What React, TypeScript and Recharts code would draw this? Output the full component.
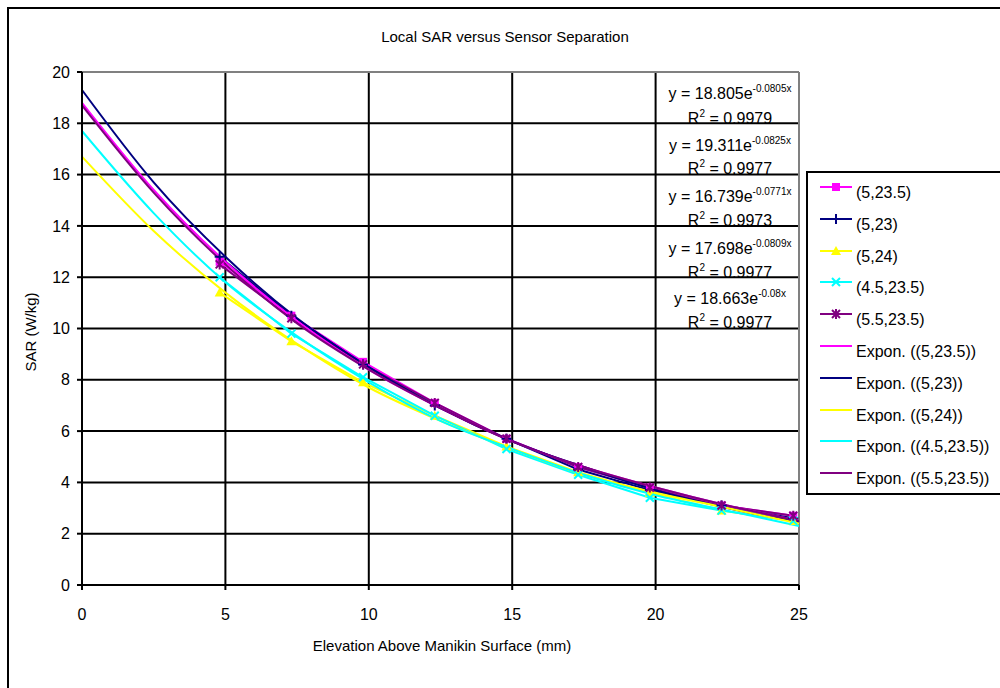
import React from 'react'
import { LineChart, Line, CartesianGrid, XAxis, YAxis, ReferenceLine } from 'recharts'

const FONT = '"Liberation Sans", Arial, sans-serif'

// measured elevations (mm)
const xs = [4.8, 7.3, 9.8, 12.3, 14.8, 17.3, 19.8, 22.3, 24.8]
const s5_235 = [12.6, 10.5, 8.7, 7.1, 5.7, 4.6, 3.8, 3.1, 2.7]
const s5_23 = [12.8, 10.5, 8.6, 7.0, 5.7, 4.5, 3.7, 3.1, 2.6]
const s5_24 = [11.4, 9.5, 7.9, 6.6, 5.4, 4.4, 3.6, 2.9, 2.5]
const s45_235 = [12.0, 9.8, 8.1, 6.6, 5.3, 4.3, 3.4, 2.9, 2.5]
const s55_235 = [12.5, 10.4, 8.6, 7.1, 5.7, 4.6, 3.8, 3.1, 2.7]

// trendline values
const trendX = [0, 2.5, 5, 7.5, 10, 12.5, 15, 17.5, 20, 22.5, 25]
const t5_235 = [18.8, 15.4, 12.6, 10.3, 8.4, 6.9, 5.6, 4.6, 3.8, 3.1, 2.5]
const t5_23 = [19.3, 15.7, 12.8, 10.4, 8.5, 6.9, 5.6, 4.6, 3.7, 3.0, 2.45]
const t5_24 = [16.7, 13.8, 11.4, 9.4, 7.7, 6.4, 5.3, 4.3, 3.6, 3.0, 2.4]
const t45_235 = [17.7, 14.5, 11.8, 9.7, 7.9, 6.4, 5.3, 4.3, 3.5, 2.9, 2.3]
const t55_235 = [18.7, 15.3, 12.5, 10.2, 8.4, 6.9, 5.6, 4.6, 3.8, 3.1, 2.5]

const xTicks = [0, 5, 10, 15, 20, 25]
const yTicks = [0, 2, 4, 6, 8, 10, 12, 14, 16, 18, 20]

const series = [
  { name: '(5,23.5)', color: '#FF00FF', shape: 'square', values: s5_235 },
  { name: '(5,23)', color: '#000080', shape: 'plus', values: s5_23 },
  { name: '(5,24)', color: '#FFFF00', shape: 'triangle', values: s5_24 },
  { name: '(4.5,23.5)', color: '#00FFFF', shape: 'x', values: s45_235 },
  { name: '(5.5,23.5)', color: '#800080', shape: 'star', values: s55_235 },
]

const trends = [
  { name: 'Expon. ((5,23.5))', color: '#FF00FF', values: t5_235 },
  { name: 'Expon. ((5,23))', color: '#000080', values: t5_23 },
  { name: 'Expon. ((5,24))', color: '#FFFF00', values: t5_24 },
  { name: 'Expon. ((4.5,23.5))', color: '#00FFFF', values: t45_235 },
  { name: 'Expon. ((5.5,23.5))', color: '#800080', values: t55_235 },
]

const equations = [
  { a: '18.805', k: '-0.0805x', r2: '0.9979' },
  { a: '19.311', k: '-0.0825x', r2: '0.9977' },
  { a: '16.739', k: '-0.0771x', r2: '0.9973' },
  { a: '17.698', k: '-0.0809x', r2: '0.9977' },
  { a: '18.663', k: '-0.08x', r2: '0.9977' },
]

function Marker({ shape, color, cx, cy }: any) {
  if (cx == null || cy == null) return null
  switch (shape) {
    case 'square':
      return <rect x={cx - 4} y={cy - 4} width={8} height={8} fill={color} />
    case 'plus':
      return <path d={`M${cx - 5},${cy}H${cx + 5}M${cx},${cy - 5}V${cy + 5}`} stroke={color} strokeWidth={2} />
    case 'triangle':
      return <path d={`M${cx},${cy - 5}L${cx + 5},${cy + 4}L${cx - 5},${cy + 4}Z`} fill={color} />
    case 'x':
      return <path d={`M${cx - 4},${cy - 4}L${cx + 4},${cy + 4}M${cx + 4},${cy - 4}L${cx - 4},${cy + 4}`} stroke={color} strokeWidth={2} />
    case 'star':
      return (
        <path
          d={`M${cx - 4},${cy - 4}L${cx + 4},${cy + 4}M${cx + 4},${cy - 4}L${cx - 4},${cy + 4}M${cx},${cy - 5}V${cy + 5}`}
          stroke={color}
          strokeWidth={2}
        />
      )
    default:
      return null
  }
}

export default function App() {
  const eqTop = [93, 145, 196, 248, 298]
  const r2Top = [118, 168, 220, 272, 322]
  const legendRows = [
    ...series.map(s => ({ name: s.name, color: s.color, shape: s.shape })),
    ...trends.map(t => ({ name: t.name, color: t.color, shape: '' })),
  ]

  return (
    <div style={{ position: 'absolute', left: 0, top: 0, width: 1000, height: 688, background: '#fff', fontFamily: FONT, overflow: 'hidden' }}>
      <LineChart width={1000} height={688} margin={{ top: 72, right: 201, bottom: 73, left: 22 }}>
        <CartesianGrid stroke="#000" strokeWidth={2} />
        <XAxis
          type="number"
          dataKey="x"
          domain={[0, 25]}
          ticks={xTicks}
          height={30}
          axisLine={{ stroke: '#000', strokeWidth: 2 }}
          tickLine={{ stroke: '#000', strokeWidth: 2 }}
          tickSize={5}
          tickMargin={19}
          tick={{ fill: '#000', fontSize: 16, fontFamily: FONT }}
        />
        <YAxis
          type="number"
          domain={[0, 20]}
          ticks={yTicks}
          width={60}
          axisLine={{ stroke: '#000', strokeWidth: 2 }}
          tickLine={{ stroke: '#000', strokeWidth: 2 }}
          tickSize={5}
          tickMargin={7}
          tick={{ fill: '#000', fontSize: 16, fontFamily: FONT }}
        />
        <ReferenceLine y={20} stroke="#808080" strokeWidth={2} />
        <ReferenceLine x={25} stroke="#808080" strokeWidth={2} />
        {series.map(s => (
          <Line
            key={s.name}
            data={xs.map((x, i) => ({ x, y: s.values[i] }))}
            dataKey="y"
            type="linear"
            stroke={s.color}
            strokeWidth={2}
            isAnimationActive={false}
            dot={(p: any) => <Marker key={`${s.name}-${p.index}`} shape={s.shape} color={s.color} cx={p.cx} cy={p.cy} />}
            activeDot={false}
          />
        ))}
        {trends.map(t => (
          <Line
            key={t.name}
            data={trendX.map((x, i) => ({ x, y: t.values[i] }))}
            dataKey="y"
            type="monotone"
            stroke={t.color}
            strokeWidth={2}
            isAnimationActive={false}
            dot={false}
            activeDot={false}
          />
        ))}
      </LineChart>

      <svg width={1000} height={688} style={{ position: 'absolute', left: 0, top: 0, pointerEvents: 'none' }}>
        <path d="M8,700V8H1010" fill="none" stroke="#000" strokeWidth={2} />
        <text x={505} y={42} textAnchor="middle" fontSize={15} fontFamily={FONT} fill="#000">
          Local SAR versus Sensor Separation
        </text>
        <text x={442} y={651} textAnchor="middle" fontSize={15} fontFamily={FONT} fill="#000">
          Elevation Above Manikin Surface (mm)
        </text>
        <text x={36} y={332} textAnchor="middle" fontSize={15} fontFamily={FONT} fill="#000" transform="rotate(-90 36 332)">
          SAR (W/kg)
        </text>
        {equations.map((e, i) => (
          <g key={i} fontFamily={FONT} fill="#000">
            <text x={730} y={eqTop[i] + 6} textAnchor="middle" fontSize={16}>
              y = {e.a}e<tspan dy={-7} fontSize={10}>{e.k}</tspan>
            </text>
            <text x={730} y={r2Top[i] + 6} textAnchor="middle" fontSize={16}>
              R<tspan dy={-7} fontSize={10}>2</tspan>
              <tspan dy={7}> = {e.r2}</tspan>
            </text>
          </g>
        ))}
      </svg>

      <div style={{ position: 'absolute', left: 806, top: 171, width: 220, height: 320, border: '2px solid #000', background: '#fff' }}>
        {legendRows.map((r, i) => (
          <div key={r.name} style={{ position: 'absolute', left: 12, top: 8 + i * 31.8, height: 20, display: 'flex', alignItems: 'flex-start' }}>
            <svg width={32} height={12} style={{ display: 'block' }}>
              <line x1={0} y1={6} x2={32} y2={6} stroke={r.color} strokeWidth={2} />
              <Marker shape={r.shape} color={r.color} cx={16} cy={6} />
            </svg>
            <span style={{ fontSize: 16, color: '#000', marginLeft: 4, marginTop: 3, lineHeight: '18px', whiteSpace: 'nowrap' }}>{r.name}</span>
          </div>
        ))}
      </div>
    </div>
  )
}
